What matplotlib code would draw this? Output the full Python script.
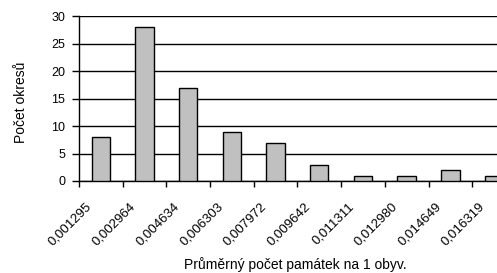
import matplotlib
matplotlib.use("Agg")
import matplotlib.pyplot as plt
import matplotlib.transforms as mtransforms
import numpy as np

# histogram data
categories = ["0,001295", "0,002964", "0,004634", "0,006303", "0,007972",
              "0,009642", "0,011311", "0,012980", "0,014649", "0,016319"]
counts = [8, 28, 17, 9, 7, 3, 1, 1, 2, 1]
y_ticks = [0, 5, 10, 15, 20, 25, 30]

plt.rcParams["font.family"] = ["Liberation Sans", "DejaVu Sans"]

fig = plt.figure(figsize=(4.97, 2.73), dpi=100, facecolor="white")
# axes run a bit past the right edge, like the cropped original
ax = fig.add_axes([0.159, 0.337, 0.879, 0.604])

x = np.arange(len(categories))
ax.bar(x, counts, width=0.42, color="#c0c0c0", edgecolor="black",
       linewidth=1, zorder=3)

ax.set_xlim(-0.5, len(categories) - 0.5)
ax.set_ylim(0, 30)
ax.set_yticks(y_ticks)
ax.yaxis.grid(True, color="black", linewidth=1)
ax.set_axisbelow(True)

# ticks at category boundaries, labels at centres
ax.set_xticks(np.arange(len(categories) + 1) - 0.5)
ax.set_xticklabels([])
ax.set_xticks(x, minor=True)
ax.set_xticklabels(categories, minor=True, rotation=45, ha="right",
                   va="center", rotation_mode="anchor", fontsize=9.5)
ax.tick_params(axis="x", which="minor", length=0, pad=0)
ax.tick_params(axis="x", which="major", length=4, width=1, direction="out")
ax.tick_params(axis="y", length=5, width=1, direction="out", labelsize=9, pad=5)

# nudge the rotated labels down-left like the original
shift = mtransforms.ScaledTranslation(-0.11, -0.24, fig.dpi_scale_trans)
for lbl in ax.get_xticklabels(minor=True):
    lbl.set_transform(lbl.get_transform() + shift)

for s in ["top", "right"]:
    ax.spines[s].set_visible(False)
for s in ["left", "bottom"]:
    ax.spines[s].set_color("black")
    ax.spines[s].set_linewidth(1)

fig.text(0.042, 0.626, "Počet okresů", fontsize=10, rotation=90,
         ha="center", va="center")
fig.text(0.594, 0.03, "Průměrný počet památek na 1 obyv.", fontsize=10,
         ha="center", va="center")

fig.savefig("out.png", dpi=100, facecolor="white")
